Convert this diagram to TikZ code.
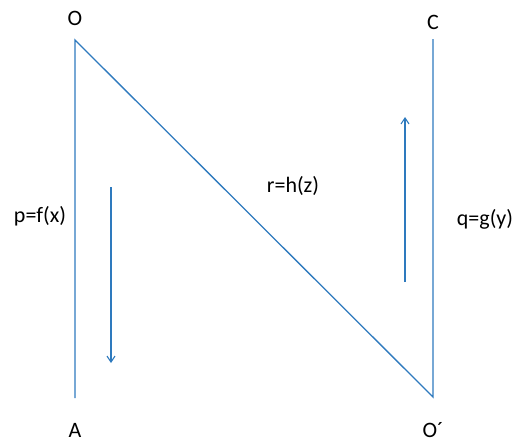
\documentclass[tikz,border=0pt]{standalone}
\usepackage{fontspec}
\setmainfont{Carlito}
\usetikzlibrary{positioning,arrows.meta}
\definecolor{mapBlue}{RGB}{46,122,190}

\begin{document}
\begin{tikzpicture}[x=1pt,y=-1pt,font=\fontsize{22}{26}\selectfont,
      edge/.style={draw=mapBlue,line width=1.3pt},
      flow/.style={draw=mapBlue,line width=1.1pt,-{Straight Barb[length=6pt,width=8pt]}},
      lbl/.style={inner sep=0pt,anchor=center}]
    \useasboundingbox (0,0) rectangle (521,442);
    % corners of the diagram
    \coordinate (o) at (75,40);
    \coordinate (a) at (75,398);
    \coordinate (c) at (433,39);
    \coordinate (op) at (433,397);
    \node[lbl] (O) at (75,18) {O};
    \node[lbl] (C) at (433,22) {C};
    \node[lbl] (A) at (75,430) {A};
    \node[lbl] (Op) at (433,430) {O´};
    \node[lbl] (pf) at (40,216) {p=f(x)};
    \node[lbl] (rh) at (293,186) {r=h(z)};
    \node[lbl] (qg) at (485,219) {q=g(y)};
    \draw[edge] (a) -- (o) -- (op) -- (c);
    % direction arrows
    \coordinate (d1) at (111,187);
    \coordinate (d2) at (111,363);
    \coordinate (u1) at (405,282);
    \coordinate (u2) at (405,117);
    \draw[flow] (d1) -- (d2);
    \draw[flow] (u1) -- (u2);
  \end{tikzpicture}
\end{document}
